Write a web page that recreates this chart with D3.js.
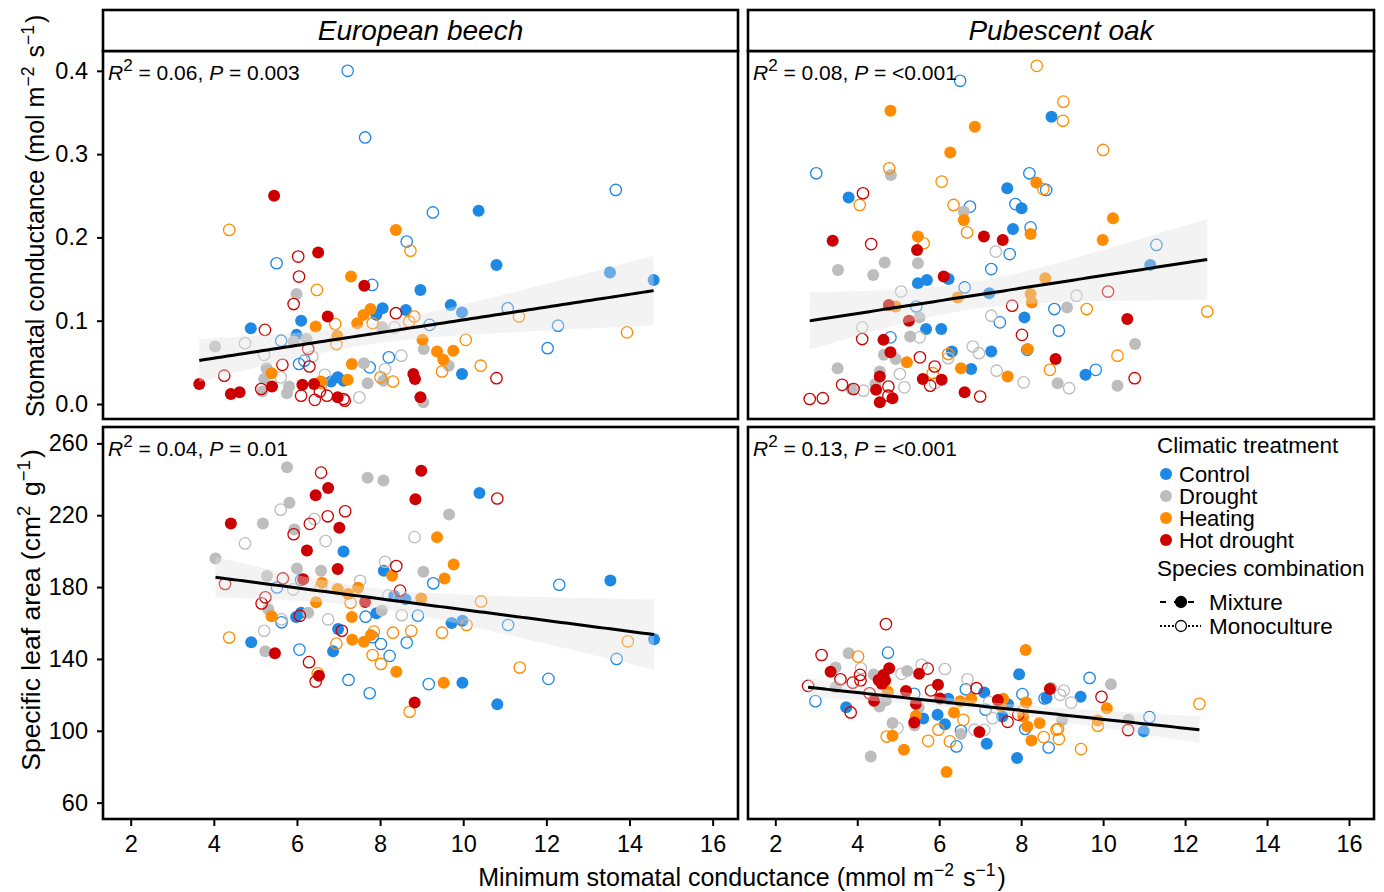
<!DOCTYPE html>
<html lang="en">
<head>
<meta charset="UTF-8">
<title>Stomatal conductance and SLA vs minimum stomatal conductance</title>
<script src="https://cdn.jsdelivr.net/npm/d3@7/dist/d3.min.js"></script>
<style>
    body{margin:0;background:#fff;}
    text{font-family:"Liberation Sans",Arial,sans-serif;fill:#000;}
    .axis text{font-size:23.5px;}
    .axis line{stroke:#000;stroke-width:2;}
    .axis path{display:none;}
</style>
</head>
<body>
<script>
// each point: [gmin, value, treatment code, 1 = mixture / 0 = monoculture]
var beechGs = [
    [7.22,0.400,"C",0],[7.64,0.320,"C",0],[8.64,0.195,"C",0],[9.27,0.230,"C",0],[13.67,0.257,"C",0],[5.51,0.169,"C",0],
    [7.81,0.143,"C",0],[9.19,0.095,"C",0],[5.62,0.076,"C",0],[6.05,0.048,"C",0],[6.18,0.052,"C",0],[7.75,0.044,"C",0],
    [8.21,0.056,"C",0],[11.07,0.115,"C",0],[12.28,0.094,"C",0],[12.03,0.067,"C",0],
    [10.37,0.232,"C",1],[10.80,0.167,"C",1],[13.53,0.158,"C",1],[14.58,0.149,"C",1],[8.97,0.137,"C",1],[9.70,0.119,"C",1],
    [9.97,0.110,"C",1],[6.10,0.100,"C",1],[4.89,0.091,"C",1],[8.06,0.115,"C",1],[7.91,0.107,"C",1],[8.62,0.113,"C",1],
    [5.99,0.083,"C",1],[6.82,0.027,"C",1],[6.98,0.032,"C",1],[7.12,0.028,"C",1],[9.97,0.036,"C",1],
    [5.99,0.132,"D",1],[8.05,0.092,"D",1],[4.03,0.069,"D",1],[5.92,0.075,"D",1],[6.23,0.078,"D",1],[5.27,0.043,"D",1],
    [5.21,0.030,"D",1],[7.61,0.049,"D",1],[7.70,0.025,"D",1],[8.08,0.028,"D",1],[5.17,0.015,"D",1],[5.76,0.013,"D",1],
    [5.81,0.021,"D",1],[9.04,0.002,"D",1],[9.65,0.046,"D",1],[9.05,0.066,"D",1],
    [8.35,0.092,"D",0],[4.75,0.073,"D",0],[5.21,0.059,"D",0],[6.37,0.057,"D",0],[5.61,0.032,"D",0],[8.51,0.058,"D",0],
    [8.12,0.042,"D",0],[6.67,0.035,"D",0],[7.50,0.008,"D",0],
    [8.38,0.209,"H",1],[7.30,0.153,"H",1],[6.45,0.093,"H",1],[7.45,0.097,"H",1],[7.60,0.107,"H",1],[7.77,0.114,"H",1],
    [6.97,0.082,"H",1],[5.39,0.037,"H",1],[7.32,0.048,"H",1],[6.58,0.027,"H",1],[7.22,0.029,"H",1],[9.37,0.063,"H",1],
    [9.76,0.064,"H",1],[9.52,0.053,"H",1],[9.02,0.077,"H",1],
    [4.37,0.209,"H",0],[8.73,0.184,"H",0],[6.48,0.137,"H",0],[6.92,0.096,"H",0],[8.70,0.099,"H",0],[8.82,0.105,"H",0],
    [7.82,0.097,"H",0],[6.95,0.072,"H",0],[8.01,0.032,"H",0],[8.31,0.027,"H",0],[6.60,0.025,"H",0],[11.34,0.105,"H",0],
    [13.94,0.086,"H",0],[10.06,0.077,"H",0],[9.49,0.039,"H",0],[10.42,0.046,"H",0],
    [5.45,0.250,"HD",1],[6.51,0.182,"HD",1],[7.62,0.142,"HD",1],[6.74,0.105,"HD",1],[8.80,0.036,"HD",1],[8.84,0.030,"HD",1],
    [3.65,0.024,"HD",1],[4.41,0.012,"HD",1],[4.62,0.014,"HD",1],[5.40,0.021,"HD",1],[6.13,0.023,"HD",1],[6.41,0.024,"HD",1],
    [6.98,0.008,"HD",1],[8.97,0.008,"HD",1],
    [6.03,0.177,"HD",0],[6.05,0.153,"HD",0],[5.92,0.120,"HD",0],[5.23,0.089,"HD",0],[8.38,0.109,"HD",0],[6.27,0.066,"HD",0],
    [4.25,0.034,"HD",0],[5.65,0.047,"HD",0],[6.30,0.045,"HD",0],[5.14,0.018,"HD",0],[6.10,0.010,"HD",0],[6.55,0.015,"HD",0],
    [6.43,0.005,"HD",0],[6.72,0.010,"HD",0],[7.12,0.006,"HD",0],[7.15,0.004,"HD",0],[10.80,0.031,"HD",0]
];

var oakGs = [
    [6.51,0.388,"C",0],[3.00,0.277,"C",0],[8.20,0.277,"C",0],[8.61,0.257,"C",0],[7.86,0.240,"C",0],[6.75,0.237,"C",0],
    [8.23,0.212,"C",0],[7.72,0.180,"C",0],[7.27,0.162,"C",0],[6.62,0.140,"C",0],[5.44,0.117,"C",0],[8.81,0.114,"C",0],
    [7.48,0.098,"C",0],[4.81,0.080,"C",0],[8.92,0.088,"C",0],[8.15,0.065,"C",0],[11.30,0.191,"C",0],[9.82,0.041,"C",0],
    [8.74,0.345,"C",1],[7.66,0.259,"C",1],[3.79,0.248,"C",1],[8.01,0.235,"C",1],[7.80,0.210,"C",1],[5.48,0.145,"C",1],
    [5.70,0.149,"C",1],[6.23,0.150,"C",1],[7.22,0.133,"C",1],[8.08,0.104,"C",1],[5.68,0.090,"C",1],[6.05,0.090,"C",1],
    [6.31,0.063,"C",1],[7.27,0.063,"C",1],[6.78,0.042,"C",1],[11.15,0.167,"C",1],[9.57,0.035,"C",1],
    [4.82,0.275,"D",1],[6.60,0.231,"D",1],[3.53,0.161,"D",1],[4.39,0.155,"D",1],[4.67,0.170,"D",1],[5.48,0.169,"D",1],
    [5.52,0.104,"D",1],[5.29,0.081,"D",1],[4.65,0.059,"D",1],[4.94,0.054,"D",1],[3.52,0.043,"D",1],[3.86,0.018,"D",1],
    [4.55,0.039,"D",1],[4.44,0.024,"D",1],[8.89,0.025,"D",1],[9.12,0.116,"D",1],[10.78,0.072,"D",1],[10.35,0.022,"D",1],
    [7.38,0.183,"D",0],[5.07,0.135,"D",0],[4.12,0.092,"D",0],[7.27,0.106,"D",0],[5.52,0.080,"D",0],[6.22,0.055,"D",0],
    [6.82,0.069,"D",0],[6.97,0.061,"D",0],[4.15,0.016,"D",0],[5.04,0.036,"D",0],[5.15,0.020,"D",0],[5.90,0.025,"D",0],
    [7.40,0.040,"D",0],[8.06,0.026,"D",0],[9.35,0.130,"D",0],[9.17,0.019,"D",0],
    [4.81,0.352,"H",1],[6.87,0.333,"H",1],[6.27,0.302,"H",1],[8.37,0.266,"H",1],[6.60,0.221,"H",1],[8.23,0.204,"H",1],
    [5.48,0.201,"H",1],[6.45,0.128,"H",1],[8.59,0.151,"H",1],[8.23,0.132,"H",1],[8.26,0.122,"H",1],[4.94,0.117,"H",1],
    [5.21,0.050,"H",1],[8.16,0.066,"H",1],[6.53,0.043,"H",1],[7.67,0.033,"H",1],[10.24,0.223,"H",1],[9.99,0.197,"H",1],
    [8.38,0.406,"H",0],[9.03,0.363,"H",0],[9.02,0.340,"H",0],[4.78,0.283,"H",0],[6.06,0.267,"H",0],[8.54,0.258,"H",0],
    [4.06,0.239,"H",0],[6.35,0.239,"H",0],[6.68,0.206,"H",0],[5.62,0.193,"H",0],[6.22,0.060,"H",0],[5.84,0.037,"H",0],
    [8.70,0.041,"H",0],[10.00,0.305,"H",0],[9.60,0.114,"H",0],[12.54,0.111,"H",0],[10.35,0.058,"H",0],
    [3.40,0.196,"HD",1],[7.09,0.201,"HD",1],[7.55,0.197,"HD",1],[5.46,0.185,"HD",1],[6.11,0.153,"HD",1],[4.77,0.119,"HD",1],
    [5.26,0.100,"HD",1],[4.64,0.077,"HD",1],[4.81,0.062,"HD",1],[8.84,0.054,"HD",1],[4.55,0.033,"HD",1],[4.46,0.017,"HD",1],
    [4.86,0.007,"HD",1],[4.55,0.002,"HD",1],[5.60,0.030,"HD",1],[6.06,0.029,"HD",1],[6.62,0.014,"HD",1],[10.59,0.102,"HD",1],
    [4.14,0.253,"HD",0],[4.34,0.192,"HD",0],[7.78,0.118,"HD",0],[4.12,0.078,"HD",0],[8.02,0.083,"HD",0],[5.53,0.056,"HD",0],
    [3.63,0.023,"HD",0],[3.91,0.018,"HD",0],[2.84,0.006,"HD",0],[3.16,0.007,"HD",0],[4.76,0.021,"HD",0],[4.76,0.010,"HD",0],
    [5.89,0.045,"HD",0],[5.78,0.022,"HD",0],[7.00,0.009,"HD",0],[10.12,0.135,"HD",0],[10.77,0.031,"HD",0]
];

var beechSla = [
    [7.12,199.8,"C",1],[8.09,189.1,"C",1],[8.34,175.0,"C",1],[8.61,173.2,"C",1],[5.98,163.3,"C",1],[6.10,165.7,"C",1],
    [7.91,165.4,"C",1],[6.99,156.7,"C",1],[4.90,149.3,"C",1],[6.87,144.3,"C",1],[10.39,232.4,"C",1],[13.54,183.7,"C",1],
    [9.72,160.0,"C",1],[9.98,161.3,"C",1],[14.59,150.9,"C",1],[9.98,126.7,"C",1],[10.82,114.8,"C",1],
    [6.10,184.0,"C",0],[5.52,179.8,"C",0],[9.28,182.1,"C",0],[5.63,160.4,"C",0],[7.65,163.5,"C",0],[8.91,164.1,"C",0],
    [7.82,152.1,"C",0],[8.02,148.3,"C",0],[8.64,149.1,"C",0],[6.06,145.2,"C",0],[8.23,141.7,"C",0],[7.24,128.3,"C",0],
    [7.75,120.9,"C",0],[9.17,126.0,"C",0],[12.31,181.3,"C",0],[11.08,158.9,"C",0],[13.69,140.0,"C",0],[12.05,128.9,"C",0],
    [5.76,246.7,"D",1],[7.70,240.9,"D",1],[8.08,239.3,"D",1],[5.82,227.0,"D",1],[5.18,215.4,"D",1],[5.94,212.1,"D",1],
    [4.04,195.9,"D",1],[6.00,190.4,"D",1],[6.58,189.1,"D",1],[9.04,188.5,"D",1],[5.28,186.1,"D",1],[5.31,167.6,"D",1],
    [6.27,165.7,"D",1],[8.04,167.0,"D",1],[5.24,144.3,"D",1],[9.66,220.4,"D",1],
    [5.61,223.1,"D",0],[6.42,217.9,"D",0],[4.75,204.3,"D",0],[6.69,205.6,"D",0],[8.83,207.8,"D",0],[8.12,194.1,"D",0],
    [6.58,180.0,"D",0],[5.91,178.7,"D",0],[7.52,183.5,"D",0],[8.20,175.4,"D",0],[5.63,162.0,"D",0],[6.75,162.0,"D",0],
    [8.52,164.3,"D",0],[5.21,155.7,"D",0],
    [8.29,186.3,"H",1],[6.60,182.4,"H",1],[6.98,178.9,"H",1],[7.23,176.1,"H",1],[7.47,179.6,"H",1],[8.99,173.7,"H",1],
    [6.46,171.5,"H",1],[5.39,163.7,"H",1],[7.32,163.3,"H",1],[7.33,150.7,"H",1],[7.61,149.6,"H",1],[7.78,153.3,"H",1],
    [8.39,132.8,"H",1],[9.37,207.8,"H",1],[9.77,192.6,"H",1],[9.55,184.8,"H",1],[9.53,126.8,"H",1],
    [7.29,171.3,"H",0],[4.37,151.9,"H",0],[6.95,148.5,"H",0],[7.85,155.2,"H",0],[8.31,154.6,"H",0],[8.75,155.6,"H",0],
    [7.82,142.2,"H",0],[8.02,137.2,"H",0],[6.50,132.0,"H",0],[8.71,110.6,"H",0],[10.43,172.0,"H",0],[10.08,158.9,"H",0],
    [9.49,154.6,"H",0],[13.96,149.8,"H",0],[11.36,135.2,"H",0],
    [8.99,244.8,"HD",1],[6.75,235.2,"HD",1],[6.45,231.1,"HD",1],[8.85,228.9,"HD",1],[4.41,215.4,"HD",1],[7.02,213.0,"HD",1],
    [6.24,200.4,"HD",1],[6.98,190.0,"HD",1],[6.15,184.4,"HD",1],[7.64,171.7,"HD",1],[5.47,143.1,"HD",1],[6.53,130.7,"HD",1],
    [8.83,115.7,"HD",1],
    [6.58,243.7,"HD",0],[7.16,222.2,"HD",0],[6.74,219.4,"HD",0],[6.31,215.2,"HD",0],[5.92,209.4,"HD",0],[8.39,191.7,"HD",0],
    [5.66,184.8,"HD",0],[4.27,181.7,"HD",0],[8.48,178.0,"HD",0],[5.24,174.3,"HD",0],[5.15,170.9,"HD",0],[6.07,164.0,"HD",0],
    [7.08,155.7,"HD",0],[6.29,138.2,"HD",0],[6.45,127.4,"HD",0],[10.82,229.3,"HD",0]
];

var oakSla = [
    [3.73,113.1,"C",1],[5.61,106.9,"C",1],[5.96,108.9,"C",1],[6.22,117.8,"C",1],[6.14,103.7,"C",1],[7.10,121.3,"C",1],
    [7.16,92.8,"C",1],[7.68,114.8,"C",1],[7.54,108.0,"C",1],[7.95,131.5,"C",1],[7.90,84.8,"C",1],[8.62,118.2,"C",1],
    [9.45,118.9,"C",1],[10.99,99.8,"C",1],
    [4.75,143.5,"C",0],[2.98,116.5,"C",0],[5.39,120.6,"C",0],[6.42,91.3,"C",0],[6.53,100.0,"C",0],[6.65,123.1,"C",0],
    [7.13,111.7,"C",0],[8.03,120.4,"C",0],[8.10,101.0,"C",0],[8.57,118.0,"C",0],[8.67,90.7,"C",0],[9.67,129.4,"C",0],
    [11.13,107.6,"C",0],
    [3.79,143.2,"D",1],[3.47,135.2,"D",1],[3.48,124.3,"D",1],[4.40,131.3,"D",1],[4.54,113.5,"D",1],[4.70,117.0,"D",1],
    [5.22,133.3,"D",1],[5.50,113.0,"D",1],[5.40,103.0,"D",1],[6.53,98.2,"D",1],[4.33,85.7,"D",1],[4.86,104.4,"D",1],
    [8.73,124.0,"D",1],[10.19,125.9,"D",1],[10.62,106.1,"D",1],[9.00,106.0,"D",1],
    [4.09,134.8,"D",0],[5.08,131.7,"D",0],[5.57,136.7,"D",0],[6.14,134.4,"D",0],[4.98,101.5,"D",0],[6.69,128.7,"D",0],
    [6.86,100.6,"D",0],[7.10,100.5,"D",0],[7.30,107.0,"D",0],[7.22,116.0,"D",0],[8.04,111.0,"D",0],[8.95,120.0,"D",0],
    [9.04,122.4,"D",0],[9.22,115.7,"D",0],
    [4.75,121.7,"H",1],[5.43,108.3,"H",1],[6.36,110.2,"H",1],[6.51,116.5,"H",1],[6.18,77.1,"H",1],[5.14,89.4,"H",1],
    [4.86,97.2,"H",1],[6.78,117.9,"H",1],[7.56,117.8,"H",1],[7.50,114.0,"H",1],[8.11,145.0,"H",1],[8.12,115.7,"H",1],
    [8.05,108.0,"H",1],[8.15,102.4,"H",1],[8.25,94.6,"H",1],[8.45,104.3,"H",1],[10.09,112.6,"H",1],[9.87,105.7,"H",1],
    [4.02,141.3,"H",0],[6.59,106.1,"H",0],[5.98,100.6,"H",0],[5.73,94.4,"H",0],[6.26,94.1,"H",0],[4.72,96.8,"H",0],
    [8.55,96.5,"H",0],[8.86,100.6,"H",0],[8.92,95.4,"H",0],[12.35,115.0,"H",0],[9.87,102.8,"H",0],[9.46,89.8,"H",0],
    [8.90,101.0,"H",0],
    [3.35,132.8,"HD",1],[4.52,128.3,"HD",1],[4.64,131.1,"HD",1],[4.68,128.0,"HD",1],[4.78,134.8,"HD",1],[4.60,126.0,"HD",1],
    [4.41,116.7,"HD",1],[5.51,131.7,"HD",1],[5.97,125.6,"HD",1],[5.19,122.2,"HD",1],[5.43,115.0,"HD",1],[5.39,104.6,"HD",1],
    [6.02,118.0,"HD",1],[6.98,99.3,"HD",1],[7.43,117.2,"HD",1],[8.70,123.2,"HD",1],
    [4.70,159.4,"HD",0],[3.13,142.2,"HD",0],[3.59,128.7,"HD",0],[2.80,125.0,"HD",0],[4.07,131.1,"HD",0],[4.08,128.0,"HD",0],
    [3.89,126.8,"HD",0],[4.30,120.9,"HD",0],[3.84,110.2,"HD",0],[5.72,134.6,"HD",0],[5.80,122.4,"HD",0],[6.91,123.7,"HD",0],
    [7.67,105.0,"HD",0],[7.93,109.0,"HD",0],[9.96,118.9,"HD",0],[10.61,100.4,"HD",0]
];

var treatCodes  = ["C","D","H","HD"];
var treatNames  = ["Control","Drought","Heating","Hot drought"];
var treatColors = ["#1e88e5","#bdbdbd","#ff8c00","#cc0000"];
var xTicks   = [2,4,6,8,10,12,14,16];
var gsTicks  = [0,0.1,0.2,0.3,0.4];
var slaTicks = [60,100,140,180,220,260];
var species  = ["European beech","Pubescent oak"];
var r2Labels = ["0.06","0.08","0.04","0.13"];
var pLabels  = ["0.003","<0.001","0.01","<0.001"];

var width = 1384, height = 892;
var svg = d3.select("body").append("svg")
    .attr("width", width).attr("height", height);

var color = d3.scaleOrdinal().domain(treatCodes).range(treatColors);

// panel boxes (pixel edges)
var cols = [[103,738],[748,1374]];
var rows = [[51,419],[427,819]];
var stripTop = 10;

var xDomain = [1.334, 16.61];
var gsDomain = [-0.018, 0.4238];
var slaDomain = [50.9, 269.1];

var panels = [
    {data: beechGs,  col:0, row:0, yDom: gsDomain,  ticks: gsTicks,  fmt: d3.format(".1f")},
    {data: oakGs,    col:1, row:0, yDom: gsDomain,  ticks: gsTicks,  fmt: d3.format(".1f")},
    {data: beechSla, col:0, row:1, yDom: slaDomain, ticks: slaTicks, fmt: d3.format("d")},
    {data: oakSla,   col:1, row:1, yDom: slaDomain, ticks: slaTicks, fmt: d3.format("d")}
];

// linear fit with 95% confidence band, like geom_smooth(method = "lm")
function linFit(pts){
    var n = pts.length;
    var mx = d3.mean(pts, function(d){ return d[0]; });
    var my = d3.mean(pts, function(d){ return d[1]; });
    var sxx = d3.sum(pts, function(d){ return (d[0]-mx)*(d[0]-mx); });
    var sxy = d3.sum(pts, function(d){ return (d[0]-mx)*(d[1]-my); });
    var b = sxy / sxx, a = my - b * mx;
    var sse = d3.sum(pts, function(d){ var e = d[1] - (a + b*d[0]); return e*e; });
    var s2 = sse / (n - 2);
    var t = 1.976;
    var ext = d3.extent(pts, function(d){ return d[0]; });
    var out = d3.range(0, 81).map(function(i){
        var x = ext[0] + (ext[1]-ext[0]) * i / 80;
        var y = a + b*x;
        var se = Math.sqrt(s2 * (1/n + (x-mx)*(x-mx)/sxx));
        return {x:x, y:y, lo:y - t*se, hi:y + t*se};
    });
    return out;
}

panels.forEach(function(p, i){
    var x0 = cols[p.col][0], x1 = cols[p.col][1];
    var y0 = rows[p.row][0], y1 = rows[p.row][1];
    var x = d3.scaleLinear().domain(xDomain).range([x0, x1]);
    var y = d3.scaleLinear().domain(p.yDom).range([y1, y0]);

    var g = svg.append("g");
    g.append("clipPath").attr("id", "clip" + i)
        .append("rect").attr("x", x0).attr("y", y0).attr("width", x1-x0).attr("height", y1-y0);
    var plot = g.append("g").attr("clip-path", "url(#clip" + i + ")");

    plot.selectAll("circle")
        .data(p.data)
        .enter()
        .append("circle")
        .attr("cx", function(d){ return x(d[0]); })
        .attr("cy", function(d){ return y(d[1]); })
        .attr("r", function(d){ return d[3] ? 6 : 5.7; })
        .attr("fill", function(d){ return d[3] ? color(d[2]) : "none"; })
        .attr("stroke", function(d){ return d[3] ? "none" : color(d[2]); })
        .attr("stroke-width", 1.3);

    var fit = linFit(p.data);
    plot.append("path")
        .datum(fit)
        .attr("fill", "#e0e0e0")
        .attr("fill-opacity", 0.4)
        .attr("d", d3.area()
            .x(function(d){ return x(d.x); })
            .y0(function(d){ return y(d.lo); })
            .y1(function(d){ return y(d.hi); }));
    plot.append("path")
        .datum(fit)
        .attr("fill", "none")
        .attr("stroke", "#000")
        .attr("stroke-width", 3)
        .attr("d", d3.line()
            .x(function(d){ return x(d.x); })
            .y(function(d){ return y(d.y); }));

    // panel border
    g.append("rect")
        .attr("x", x0).attr("y", y0).attr("width", x1-x0).attr("height", y1-y0)
        .attr("fill", "none").attr("stroke", "#000").attr("stroke-width", 2.6);

    // R2 / P label
    var lab = g.append("text")
        .attr("x", x0 + 5).attr("y", y0 + 29)
        .attr("font-size", 21);
    lab.append("tspan").attr("font-style", "italic").text("R");
    lab.append("tspan").attr("dy", -9).attr("font-size", 17).text("2");
    lab.append("tspan").attr("dy", 9).text(" = " + r2Labels[i] + ", ");
    lab.append("tspan").attr("font-style", "italic").text("P");
    lab.append("tspan").text(" = " + pLabels[i]);

    // axes only on the outer side
    if (p.col === 0) {
        svg.append("g")
            .attr("class", "axis")
            .attr("transform", "translate(" + (x0 - 1) + ",0)")
            .call(d3.axisLeft(y).tickValues(p.ticks).tickFormat(p.fmt).tickSize(5).tickPadding(9));
    }
    if (p.row === 1) {
        svg.append("g")
            .attr("class", "axis")
            .attr("transform", "translate(0," + (y1 + 1) + ")")
            .call(d3.axisBottom(x).tickValues(xTicks).tickSize(6).tickPadding(9));
    }
    if (p.row === 0) {
        g.append("rect")
            .attr("x", x0).attr("y", stripTop).attr("width", x1-x0).attr("height", y0 - stripTop)
            .attr("fill", "#fff").attr("stroke", "#000").attr("stroke-width", 2.6);
        g.append("text")
            .attr("x", (x0 + x1) / 2).attr("y", y0 - 11)
            .attr("text-anchor", "middle")
            .attr("font-size", 28)
            .attr("font-style", "italic")
            .text(species[p.col]);
    }
});

// axis titles with superscripts
function addTitle(t, parts, sup){
    parts.forEach(function(s){
        if (s[1]) {
            t.append("tspan").attr("dy", -10).attr("font-size", sup).text(s[0]);
            t.append("tspan").attr("dy", 10).text("\u200a");
        } else {
            t.append("tspan").text(s[0]);
        }
    });
}

var xt = svg.append("text")
    .attr("x", 742).attr("y", 886)
    .attr("text-anchor", "middle").attr("font-size", 25);
addTitle(xt, [["Minimum stomatal conductance (mmol m"],["\u22122",1],[" s"],["\u22121",1],[")"]], 17.5);

var yt1 = svg.append("text")
    .attr("transform", "translate(44,216) rotate(-90)")
    .attr("text-anchor", "middle").attr("font-size", 25);
addTitle(yt1, [["Stomatal conductance (mol m"],["\u22122",1],[" s"],["\u22121",1],[")"]], 17.5);

var yt2 = svg.append("text")
    .attr("transform", "translate(40,610) rotate(-90)")
    .attr("text-anchor", "middle").attr("font-size", 26.5);
addTitle(yt2, [["Specific leaf area (cm"],["2",1],[" g"],["\u22121",1],[")"]], 18.5);

// legend
var leg = svg.append("g").attr("transform", "translate(1157,0)");
leg.append("text").attr("x", 0).attr("y", 453).attr("font-size", 22.5).text("Climatic treatment");
var rowsY = [474, 496, 518, 540];
treatNames.forEach(function(name, k){
    leg.append("circle").attr("cx", 9).attr("cy", rowsY[k]).attr("r", 6).attr("fill", treatColors[k]);
    leg.append("text").attr("x", 22).attr("y", rowsY[k] + 8).attr("font-size", 22).text(name);
});
leg.append("text").attr("x", 0).attr("y", 576).attr("font-size", 22.5).text("Species combination");

var combo = [["Mixture", "6,8", 1], ["Monoculture", "2,2", 0]];
combo.forEach(function(c, k){
    var cy = 602 + k * 24;
    leg.append("line").attr("x1", 3).attr("x2", 44).attr("y1", cy).attr("y2", cy)
        .attr("stroke", "#000").attr("stroke-width", 2).attr("stroke-dasharray", c[1]);
    leg.append("circle").attr("cx", 24).attr("cy", cy).attr("r", 5.5)
        .attr("fill", c[2] ? "#000" : "#fff").attr("stroke", "#000").attr("stroke-width", 1.3);
    leg.append("text").attr("x", 52).attr("y", cy + 8).attr("font-size", 22.5).text(c[0]);
});
</script>
</body>
</html>
